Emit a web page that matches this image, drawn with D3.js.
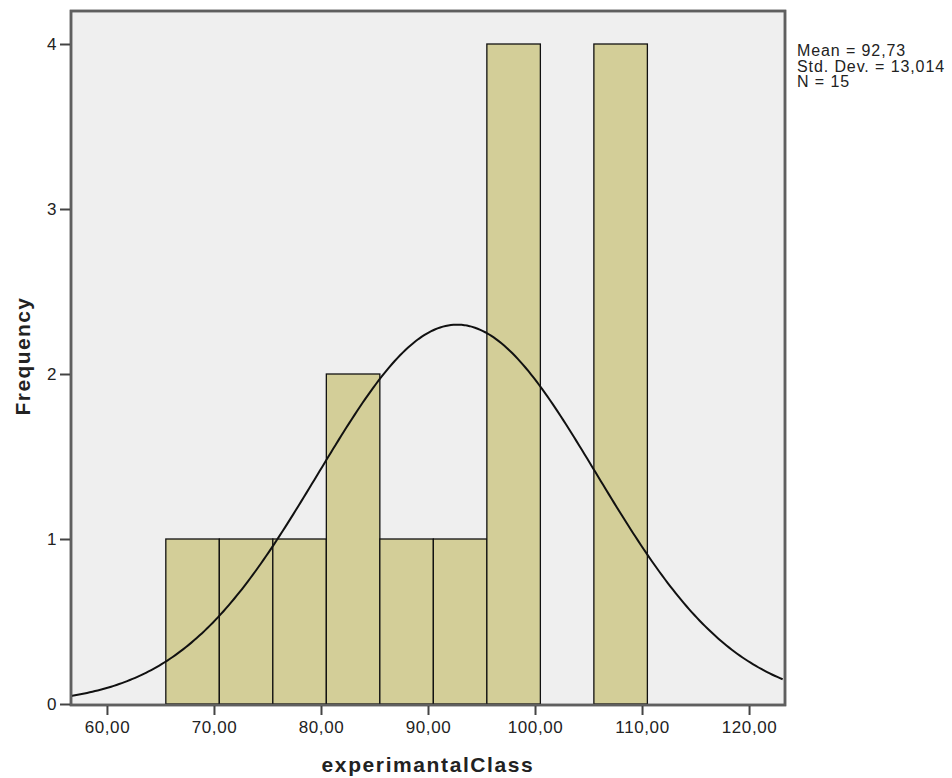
<!DOCTYPE html>
<html>
<head>
<meta charset="UTF-8">
<title>Histogram experimantalClass</title>
<script src="https://d3js.org/d3.v7.min.js"></script>
<style>
    body { margin: 0; background: #fff; }
    text { font-family: "Liberation Sans", Arial, sans-serif; fill: #222; }
    .tick line { stroke: #444; stroke-width: 2px; }
    .tick text { font-size: 17px; letter-spacing: 0.6px; }
    .bar { fill: #d3ce98; stroke: #111; stroke-width: 1.3px; }
    .curve { fill: none; stroke: #111; stroke-width: 2px; }
</style>
</head>
<body>
<svg width="952" height="778"></svg>
<script>
// bins of width 5 (lower edges) and their counts
var binStart = [65.5, 70.5, 75.5, 80.5, 85.5, 90.5, 95.5, 100.5, 105.5];
var binCount = [1, 1, 1, 2, 1, 1, 4, 0, 4];
var binWidth = 5;
var xTicks = [60, 70, 80, 90, 100, 110, 120];
var yTicks = [0, 1, 2, 3, 4];
var stats = { mean: 92.73, sd: 13.014, n: 15 };
var statLines = ['Mean = 92,73', 'Std. Dev. = 13,014', 'N = 15'];

var svg = d3.select('svg');
var pL = 71, pR = 785, pT = 11, pB = 705;

var x = d3.scaleLinear().domain([56.64, 123.36]).range([pL, pR]);
var y = d3.scaleLinear().domain([0, 4.2]).range([pB - 1, pT]);

// plot frame
svg.append('rect')
    .attr('x', pL).attr('y', pT)
    .attr('width', pR - pL).attr('height', pB - pT)
    .attr('fill', '#efefef')
    .attr('stroke', '#5f5f5f').attr('stroke-width', 2.5);

var bins = binStart.map(function (s, i) { return { x0: s, x1: s + binWidth, n: binCount[i] }; });

svg.append('g').selectAll('rect')
    .data(bins.filter(function (d) { return d.n > 0; }))
    .enter().append('rect')
    .attr('class', 'bar')
    .attr('x', function (d) { return x(d.x0); })
    .attr('width', function (d) { return x(d.x1) - x(d.x0); })
    .attr('y', function (d) { return y(d.n); })
    .attr('height', function (d) { return y(0) - y(d.n); });

// fitted normal curve, scaled to counts
var k = stats.n * binWidth / (stats.sd * Math.sqrt(2 * Math.PI));
var pts = d3.range(x.domain()[0], x.domain()[1] + 0.01, 0.25).map(function (v) {
    var z = (v - stats.mean) / stats.sd;
    return [v, k * Math.exp(-0.5 * z * z)];
});
svg.append('path')
    .attr('class', 'curve')
    .attr('d', d3.line().x(function (d) { return x(d[0]); }).y(function (d) { return y(d[1]); })(pts));

// redraw frame border above bars
svg.append('rect')
    .attr('x', pL).attr('y', pT)
    .attr('width', pR - pL).attr('height', pB - pT)
    .attr('fill', 'none')
    .attr('stroke', '#5f5f5f').attr('stroke-width', 2.5);

var fmt = function (d) { return d.toFixed(2).replace('.', ','); };

var gx = svg.append('g')
    .attr('transform', 'translate(0,' + (pB + 1) + ')')
    .call(d3.axisBottom(x).tickValues(xTicks).tickFormat(fmt).tickSize(9).tickPadding(6));
gx.select('.domain').remove();

var gy = svg.append('g')
    .attr('transform', 'translate(' + (pL - 1) + ',0)')
    .call(d3.axisLeft(y).tickValues(yTicks).tickFormat(d3.format('d')).tickSize(10).tickPadding(3));
gy.select('.domain').remove();

// axis titles
svg.append('text')
    .attr('x', (pL + pR) / 2).attr('y', 772)
    .attr('text-anchor', 'middle')
    .style('font-size', '21px').style('font-weight', 'bold').style('letter-spacing', '1.6px')
    .text('experimantalClass');

svg.append('text')
    .attr('transform', 'translate(30,356) rotate(-90)')
    .attr('text-anchor', 'middle')
    .style('font-size', '21px').style('font-weight', 'bold').style('letter-spacing', '1.4px')
    .text('Frequency');

// stats box
svg.append('g').selectAll('text')
    .data(statLines)
    .enter().append('text')
    .attr('x', 797)
    .attr('y', function (d, i) { return 56 + i * 15.5; })
    .style('font-size', '16px').style('letter-spacing', '0.9px')
    .text(function (d) { return d; });
</script>
</body>
</html>
